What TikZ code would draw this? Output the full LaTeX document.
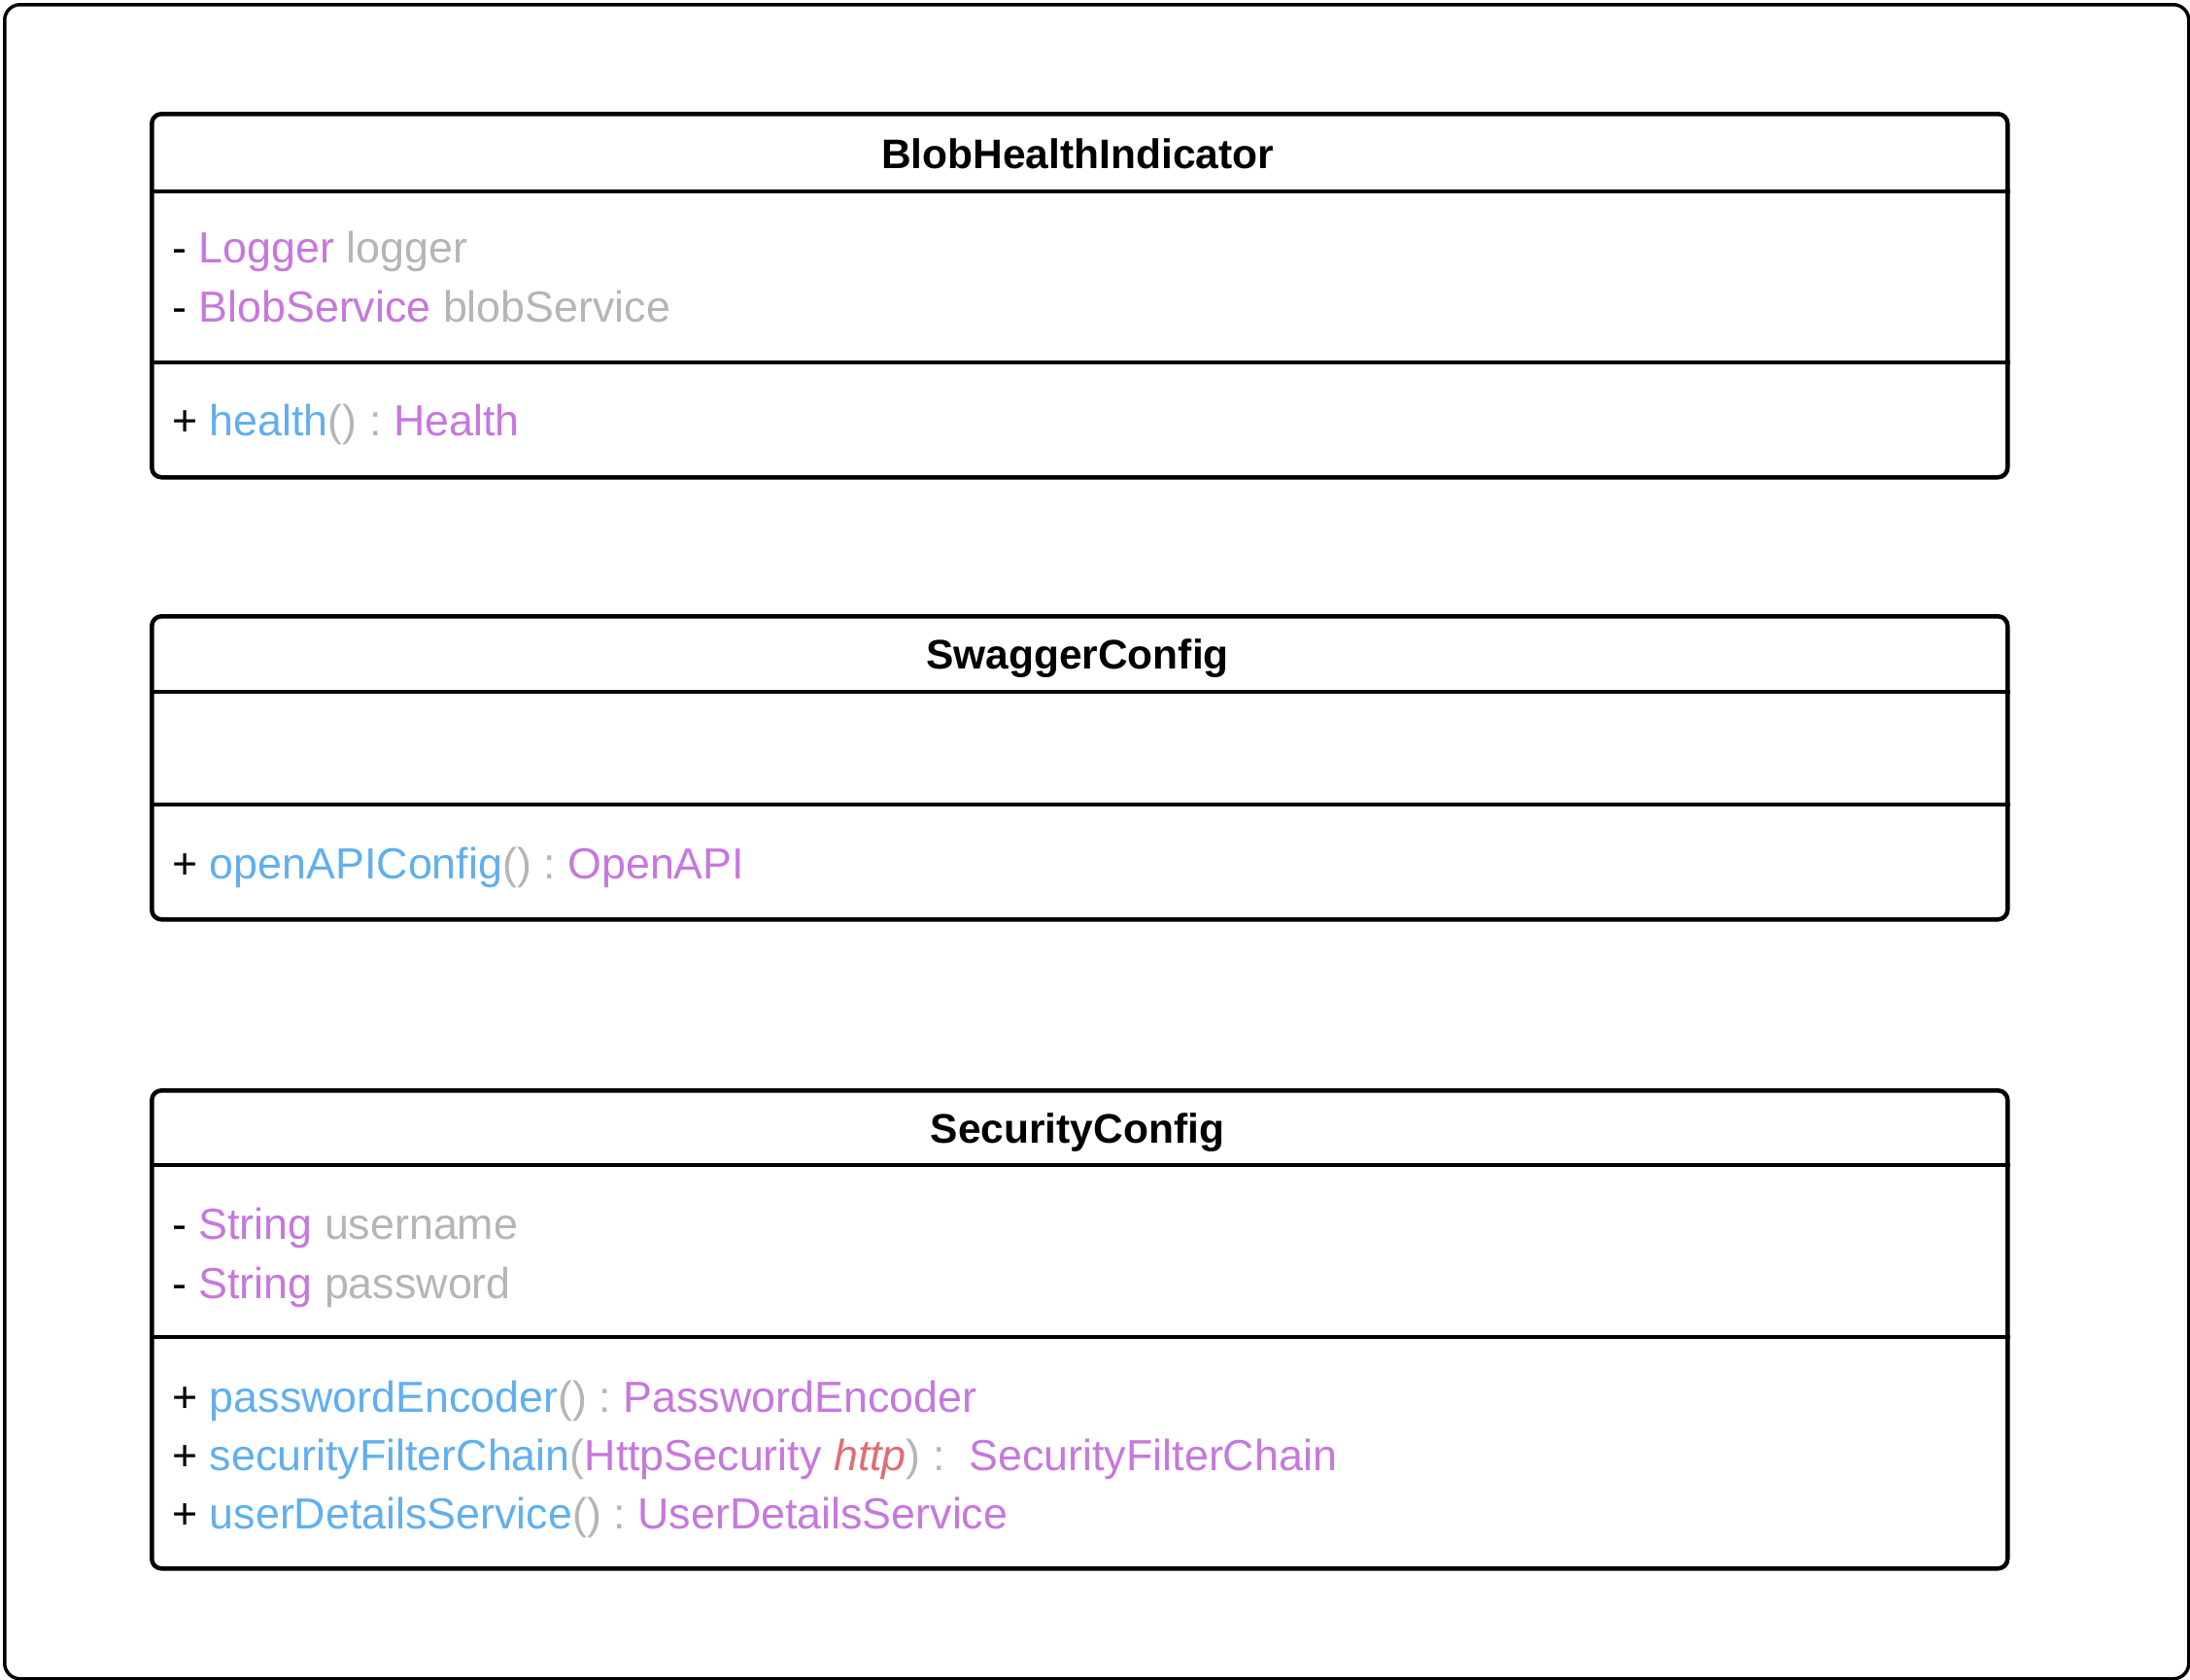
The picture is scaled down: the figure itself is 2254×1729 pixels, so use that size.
\documentclass[tikz,border=0pt]{standalone}
\usepackage{fontspec}
\setmainfont{Liberation Sans}
\definecolor{tpurple}{HTML}{C678DD}
\definecolor{tblue}{HTML}{61AFEF}
\definecolor{tgrey}{HTML}{B5B5B5}
\definecolor{tred}{HTML}{E06C75}
\newcommand{\ty}[1]{\textcolor{tpurple}{#1}}
\newcommand{\nm}[1]{\textcolor{tgrey}{#1}}
\newcommand{\mt}[1]{\textcolor{tblue}{#1}}
\newcommand{\pr}{\textcolor{tgrey}{(}}
\newcommand{\pl}{\textcolor{tgrey}{)}}
\newcommand{\cl}{\textcolor{tgrey}{:}}
\begin{document}
\begin{tikzpicture}[x=1pt,y=-1pt,
  classbox/.style={draw,line width=4.5pt,rounded corners=10pt,inner sep=0pt,anchor=north west},
  frame/.style={draw,line width=3.5pt,rounded corners=16pt,inner sep=0pt,anchor=north west},
  divider/.style={line width=4.5pt},
  title/.style={anchor=base,inner sep=0pt,font=\fontsize{42.5}{50}\selectfont\bfseries},
  member/.style={anchor=base west,inner sep=0pt,font=\fontsize{44.8}{50}\selectfont}]
\useasboundingbox (0,0) rectangle (2254,1729);
\node[frame,minimum width=2248pt,minimum height=1723pt] (outer) at (3,3) {};

% BlobHealthIndicator
\node[classbox,minimum width=1910pt,minimum height=374pt] (b1) at (154,115) {};
\draw[divider] (b1.west |- 0,197) -- (b1.east |- 0,197);
\draw[divider] (b1.west |- 0,373) -- (b1.east |- 0,373);
\node[title] (b1t) at (1109,173) {BlobHealthIndicator};
\node[member] (b1a1) at (177,270) {- \ty{Logger} \nm{logger}};
\node[member] (b1a2) at (177,331) {- \ty{BlobService} \nm{blobService}};
\node[member] (b1m1) at (177,448) {+ \mt{health}\pr\pl\ \cl\ \ty{Health}};

% SwaggerConfig
\node[classbox,minimum width=1910pt,minimum height=312pt] (b2) at (154,632) {};
\draw[divider] (b2.west |- 0,712) -- (b2.east |- 0,712);
\draw[divider] (b2.west |- 0,828) -- (b2.east |- 0,828);
\node[title] (b2t) at (1109,688) {SwaggerConfig};
\node[member] (b2m1) at (177,904) {+ \mt{openAPIConfig}\pr\pl\ \cl\ \ty{OpenAPI}};

% SecurityConfig
\node[classbox,minimum width=1910pt,minimum height=492pt] (b3) at (154,1120) {};
\draw[divider] (b3.west |- 0,1199) -- (b3.east |- 0,1199);
\draw[divider] (b3.west |- 0,1376) -- (b3.east |- 0,1376);
\node[title] (b3t) at (1109,1176) {SecurityConfig};
\node[member] (b3a1) at (177,1275) {- \ty{String} \nm{username}};
\node[member] (b3a2) at (177,1336) {- \ty{String} \nm{password}};
\node[member] (b3m1) at (177,1453) {+ \mt{passwordEncoder}\pr\pl\ \cl\ \ty{PasswordEncoder}};
\node[member] (b3m2) at (177,1513) {+ \mt{securityFilterChain}\pr\ty{HttpSecurity} \textcolor{tred}{\itshape http}\pl\ \cl\ \ \ty{SecurityFilterChain}};
\node[member] (b3m3) at (177,1573) {+ \mt{userDetailsService}\pr\pl\ \cl\ \ty{UserDetailsService}};
\end{tikzpicture}
\end{document}
